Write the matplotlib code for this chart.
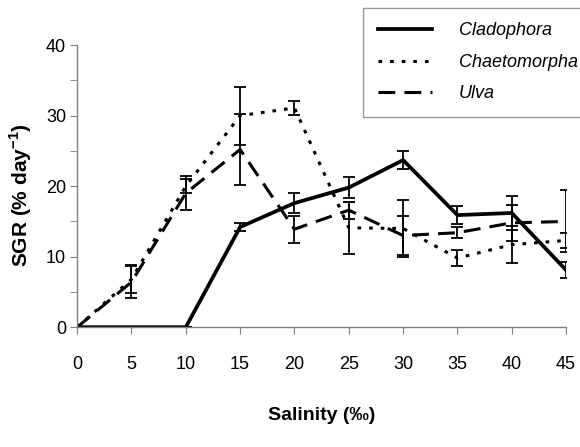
import numpy as np
import matplotlib
matplotlib.use("Agg")
import matplotlib.pyplot as plt
from matplotlib.ticker import MultipleLocator

plt.rcParams["font.family"] = ["Liberation Sans", "DejaVu Sans"]
plt.rcParams["mathtext.fontset"] = "custom"
plt.rcParams["mathtext.rm"] = "Liberation Sans"
plt.rcParams["mathtext.bf"] = "Liberation Sans:bold"

salinity = [0, 5, 10, 15, 20, 25, 30, 35, 40, 45]

clad = [0, 0, 0, 14.2, 17.6, 19.8, 23.7, 15.9, 16.2, 8.1]
clad_err = [0, 0, 0, 0.6, 1.4, 1.5, 1.3, 1.3, 2.4, 1.1]

chaeto = [0, 6.8, 20.0, 30.0, 31.1, 14.1, 14.0, 9.8, 11.7, 12.3]
chaeto_err = [0, 2.0, 1.0, 4.1, 1.0, 3.7, 4.1, 1.1, 2.6, 1.0]

ulva = [0, 6.4, 19.0, 25.2, 13.9, 16.6, 13.0, 13.4, 14.8, 15.0]
ulva_err = [0, 2.3, 2.4, 5.0, 1.9, 1.2, 2.7, 0.8, 2.6, 4.4]

fig = plt.figure(figsize=(5.8, 4.47), dpi=100)
ax = fig.add_axes([0.133, 0.268, 0.843, 0.631])

eb = dict(fmt="none", ecolor="black", elinewidth=1.3, capsize=4, capthick=1.3)
ax.errorbar(salinity, clad, yerr=clad_err, **eb)
ax.errorbar(salinity, chaeto, yerr=chaeto_err, **eb)
ax.errorbar(salinity, ulva, yerr=ulva_err, **eb)

ax.plot(salinity, clad, color="black", lw=2.7, ls="-", label="Cladophora",
        solid_joinstyle="miter")
ax.plot(salinity, chaeto, color="black", lw=2.2, ls=(0, (1.2, 2.6)), label="Chaetomorpha")
ax.plot(salinity, ulva, color="black", lw=2.2, ls=(0, (5.5, 3)), label="Ulva")

ax.set_xlim(0, 45)
ax.set_ylim(0, 40)
ax.xaxis.set_major_locator(MultipleLocator(5))
ax.yaxis.set_major_locator(MultipleLocator(10))
ax.yaxis.set_minor_locator(MultipleLocator(5))

for side in ["top", "right"]:
    ax.spines[side].set_visible(False)
for side in ["left", "bottom"]:
    ax.spines[side].set_color("#808080")
    ax.spines[side].set_linewidth(1.0)

ax.tick_params(axis="both", which="both", direction="out", color="#808080",
               labelsize=13, length=5)
ax.tick_params(axis="x", pad=16)
ax.tick_params(axis="y", pad=3)

ax.set_xlabel("Salinity (\u2030)", fontsize=14, fontweight="bold", labelpad=24)
ax.set_ylabel("SGR (% day$^{\\mathbf{-1}}$)", fontsize=15, fontweight="bold")
ax.yaxis.set_label_coords(-0.088, 0.47)

leg = fig.legend(loc="upper left", bbox_to_anchor=(0.626, 0.982), borderaxespad=0,
                 frameon=True, fancybox=False, edgecolor="#808080",
                 prop={"style": "italic", "size": 13}, handlelength=3.0,
                 handletextpad=1.5, labelspacing=0.8, borderpad=0.8)
leg.get_frame().set_linewidth(1.0)

fig.savefig("out.png", dpi=100)
